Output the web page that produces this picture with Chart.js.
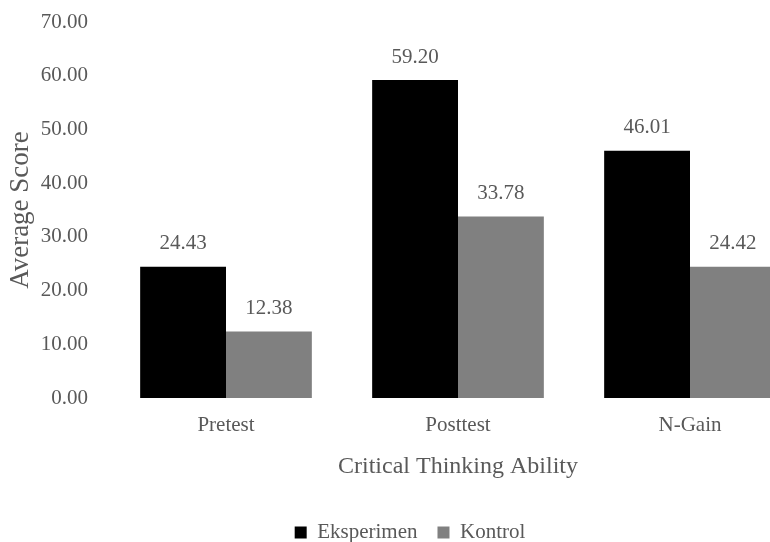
<!DOCTYPE html>
<html>
<head>
<meta charset="utf-8">
<script src="https://cdn.jsdelivr.net/npm/chart.js@4.4.1/dist/chart.umd.min.js"></script>
<style>
  html, body { margin: 0; padding: 0; background: #fff; overflow: hidden; }
  #wrap { width: 820px; height: 553px; position: relative; }
</style>
</head>
<body>
<div id="wrap"><canvas id="c"></canvas></div>
<script>
const categories = ['Pretest', 'Posttest', 'N-Gain'];
const eksperimen = [24.43, 59.20, 46.01];
const kontrol = [12.38, 33.78, 24.42];
const yTicks = [0, 10, 20, 30, 40, 50, 60, 70];

const textColor = '#595959';
const serif = "'Liberation Serif', 'Times New Roman', serif";

// Writes each bar's value just above its top
const valueLabels = {
  id: 'valueLabels',
  afterDatasetsDraw(chart) {
    const ctx = chart.ctx;
    ctx.save();
    ctx.font = '21px ' + serif;
    ctx.fillStyle = textColor;
    ctx.textAlign = 'center';
    ctx.textBaseline = 'middle';
    chart.data.datasets.forEach((ds, i) => {
      chart.getDatasetMeta(i).data.forEach((bar, j) => {
        ctx.fillText(ds.data[j].toFixed(2), bar.x, bar.y - 23);
      });
    });
    ctx.restore();
  }
};

new Chart(document.getElementById('c'), {
  type: 'bar',
  data: {
    labels: categories,
    datasets: [
      { label: 'Eksperimen', data: eksperimen, backgroundColor: '#000000' },
      { label: 'Kontrol', data: kontrol, backgroundColor: '#808080' }
    ]
  },
  options: {
    responsive: true,
    maintainAspectRatio: false,
    animation: false,
    layout: { padding: { top: 22, right: 0, bottom: 0, left: 0 } },
    datasets: { bar: { categoryPercentage: 0.74, barPercentage: 1.0 } },
    plugins: {
      tooltip: { enabled: false },
      legend: {
        position: 'bottom',
        labels: {
          color: textColor,
          font: { family: serif, size: 21 },
          boxWidth: 12,
          boxHeight: 12,
          padding: 20
        }
      }
    },
    scales: {
      x: {
        grid: { display: false, drawTicks: false },
        border: { display: false },
        ticks: { color: textColor, font: { family: serif, size: 21 }, padding: 15 },
        title: { display: true, text: 'Critical Thinking Ability', color: textColor,
                 font: { family: serif, size: 24 }, padding: { top: 4, bottom: 21 } },
        afterFit(scale) { scale.height = 104; scale.paddingLeft = 0; scale.paddingRight = 14; }
      },
      y: {
        min: 0, max: 70,
        afterBuildTicks(scale) { scale.ticks = yTicks.map(v => ({ value: v })); },
        grid: { display: false, drawTicks: false },
        border: { display: false },
        ticks: { color: textColor, font: { family: serif, size: 21 }, padding: 22,
                 callback: v => Number(v).toFixed(2) },
        title: { display: true, text: 'Average Score', color: textColor,
                 font: { family: serif, size: 27 }, padding: { top: 5, bottom: 4 } },
        afterFit(scale) { scale.width = 110; scale.paddingTop = 0; scale.paddingBottom = 0; }
      }
    }
  },
  plugins: [valueLabels]
});
</script>
</body>
</html>
